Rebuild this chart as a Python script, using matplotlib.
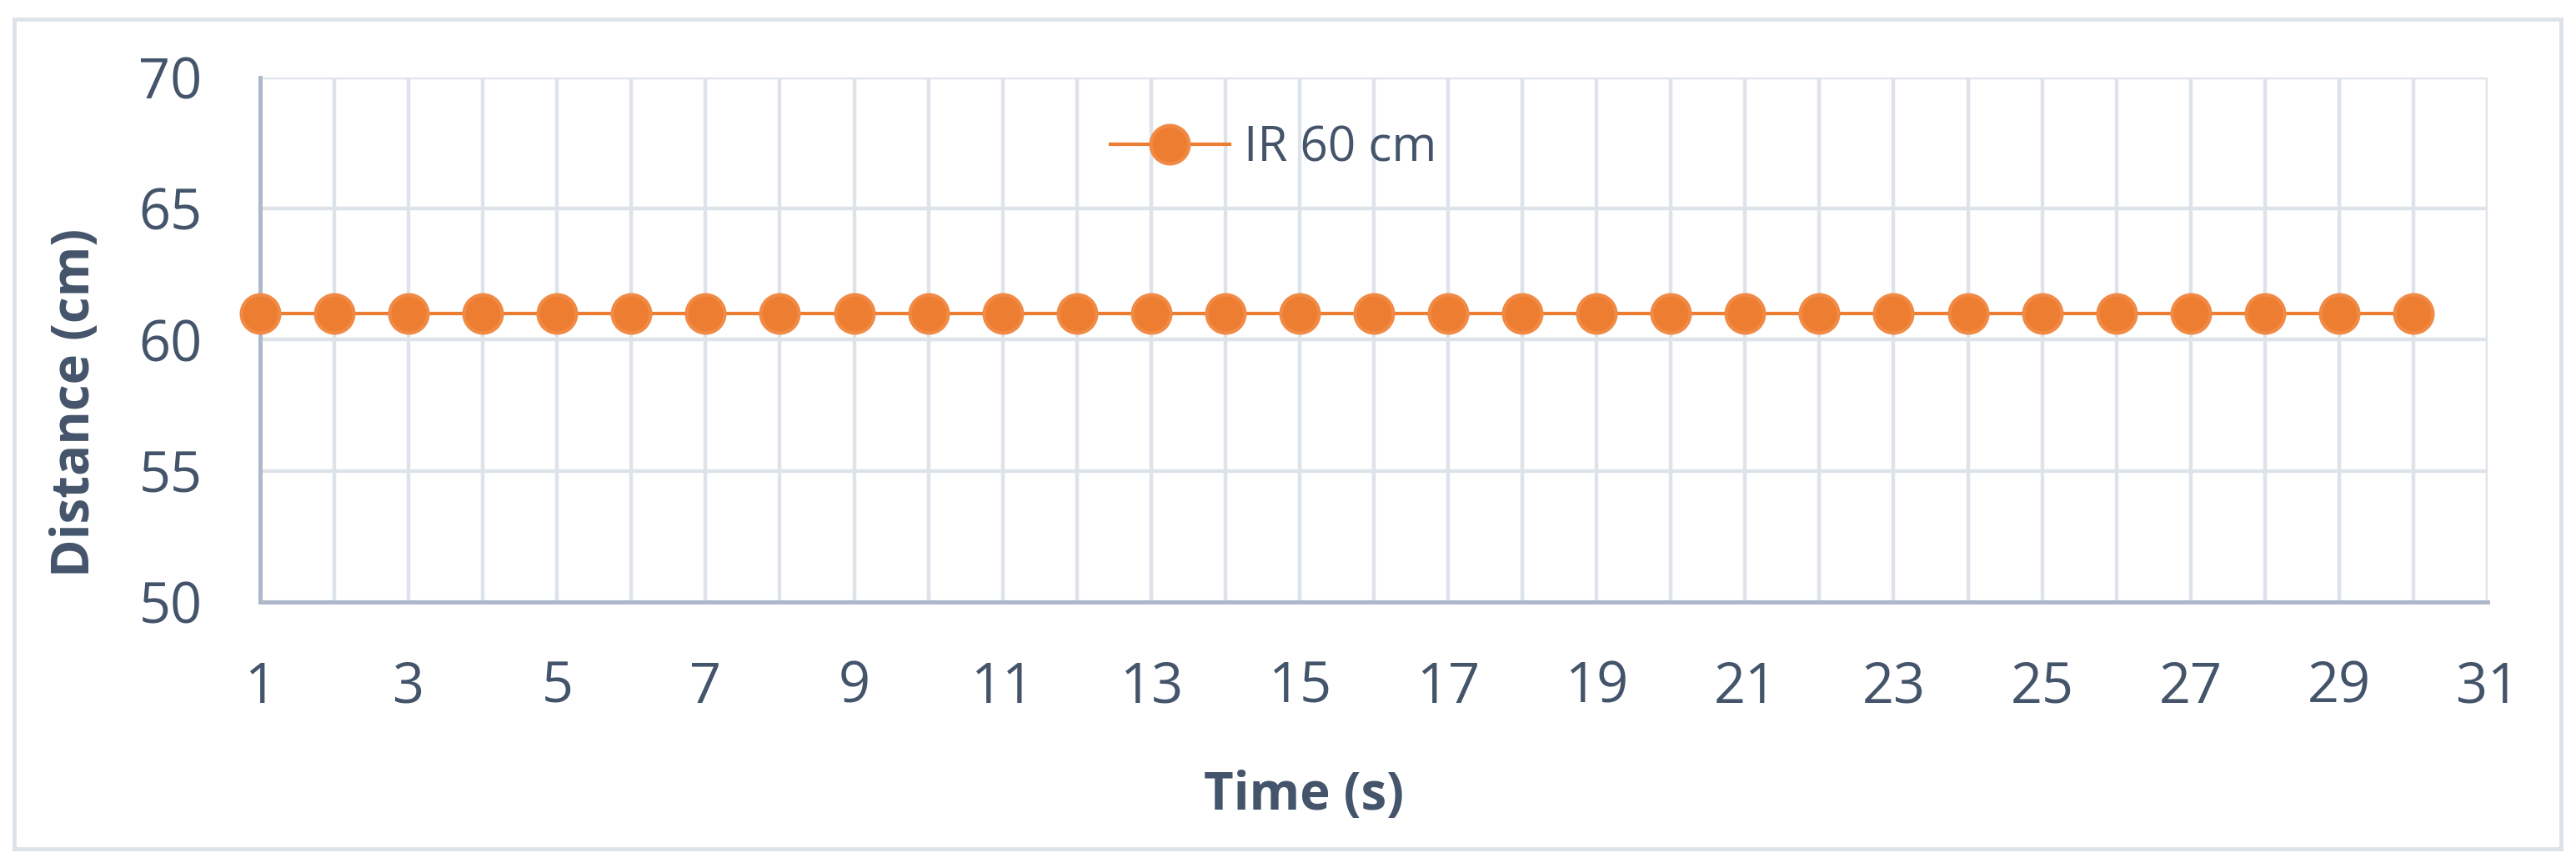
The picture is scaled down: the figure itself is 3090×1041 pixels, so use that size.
import numpy as np
import matplotlib
matplotlib.use("Agg")
import matplotlib.pyplot as plt
from matplotlib.patches import Rectangle

# IR sensor reading at 60 cm, one sample per second
time_s = list(range(1, 31))
distance_cm = [61] * 30
series_label = "IR 60 cm"

TXT = "#44546A"
GRID = "#DEE3EA"
AXIS = "#ADB9CA"
ORANGE = "#ED7D31"

plt.rcParams["font.family"] = ["Open Sans", "DejaVu Sans"]

W, H = 3090, 1041
fig = plt.figure(figsize=(W / 100, H / 100), dpi=100)
fig.patches.append(Rectangle((17 / W, 1 - 1018 / H), (3072 - 17) / W, (1018 - 23) / H,
                             transform=fig.transFigure, fill=False, edgecolor=GRID, lw=3.5))
ax = fig.add_axes([312 / W, 1 - 722 / H, (2984 - 312) / W, (722 - 93) / H])

ax.plot(time_s, distance_cm, color=ORANGE, lw=3, marker="o", ms=33,
        mfc=ORANGE, mec="#F08A45", mew=3, label=series_label, zorder=3, clip_on=False)

ax.set_xlim(1, 31)
ax.set_ylim(50, 70)
ax.set_xticks(np.arange(1, 32, 2))
ax.set_xticks(np.arange(1, 32, 1), minor=True)
ax.set_yticks(np.arange(50, 71, 5))
ax.grid(which="both", axis="x", color=GRID, lw=3.2)
ax.grid(which="major", axis="y", color=GRID, lw=3.2)
ax.set_axisbelow(True)
for s in ["top", "right"]:
    ax.spines[s].set_visible(False)
for s in ["left", "bottom"]:
    ax.spines[s].set_color(AXIS)
    ax.spines[s].set_linewidth(3.6)
ax.tick_params(which="both", length=0, colors=TXT, labelsize=48)
ax.tick_params(axis="x", pad=50)
ax.tick_params(axis="y", pad=50)

# Excel puts the axis titles a little off centre
ax.set_xlabel("Time (s)", fontsize=44.5, fontweight="bold", color=TXT, labelpad=46)
ax.set_ylabel("Distance (cm)", fontsize=44.5, fontweight="bold", color=TXT, labelpad=32)
ax.xaxis.label.set_x(0.4686)
ax.yaxis.label.set_y(0.38)

leg = ax.legend(loc="center left", bbox_to_anchor=(0.3817, 0.865), frameon=False, fontsize=42,
                handlelength=2.45, handletextpad=0.3, borderpad=0, borderaxespad=0)
for t in leg.get_texts():
    t.set_color(TXT)

fig.savefig("out.png", dpi=100, facecolor="white")
